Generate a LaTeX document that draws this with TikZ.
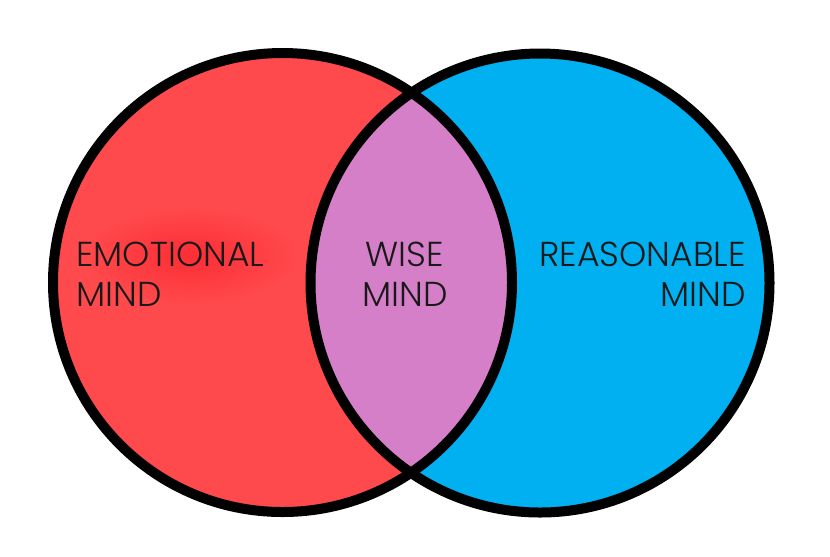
\documentclass[tikz,border=0pt]{standalone}
\usepackage{fontspec}
\setmainfont{Poppins}[UprightFont=* Light]
\definecolor{emotionred}{RGB}{255,74,77}
\definecolor{glowred}{RGB}{250,36,44}
\definecolor{reasonblue}{RGB}{0,176,240}
\definecolor{wisepurple}{RGB}{212,127,200}
\begin{document}
\begin{tikzpicture}[
    x=0.02cm, y=-0.02cm,
    mindline/.style={black, line width=0.2cm},
    lbl/.style={font=\fontsize{19.7}{22.8}\selectfont, text=black!90, inner sep=0pt},
  ]
\useasboundingbox (0,0) rectangle (830,556);

% The two minds: filled first, their shared lens painted over, outlines last.
\coordinate (emotionc) at (282.5,282.5);
\coordinate (reasonc) at (540,283);
\fill[emotionred] (emotionc) circle[radius=229.5];
\shade[inner color=glowred!75!emotionred, outer color=emotionred]
  (190,256) ellipse[x radius=110, y radius=50];
\fill[reasonblue] (reasonc) circle[radius=229.5];
\begin{scope}
  \clip (emotionc) circle[radius=229.5];
  \fill[wisepurple] (reasonc) circle[radius=229.5];
\end{scope}
\draw[mindline] (emotionc) circle[radius=229.5];
\draw[mindline] (reasonc) circle[radius=229.5];

% Labels, one per region.
\node[lbl, align=left, anchor=west] (emotional) at (76,274)
  {EMOTIONAL\\MIND};
\node[lbl, align=center] (wise) at (405,274)
  {WISE\\MIND};
\node[lbl, align=right, anchor=east] (reasonable) at (746,274)
  {REASONABLE\\MIND};

\end{tikzpicture}
\end{document}
